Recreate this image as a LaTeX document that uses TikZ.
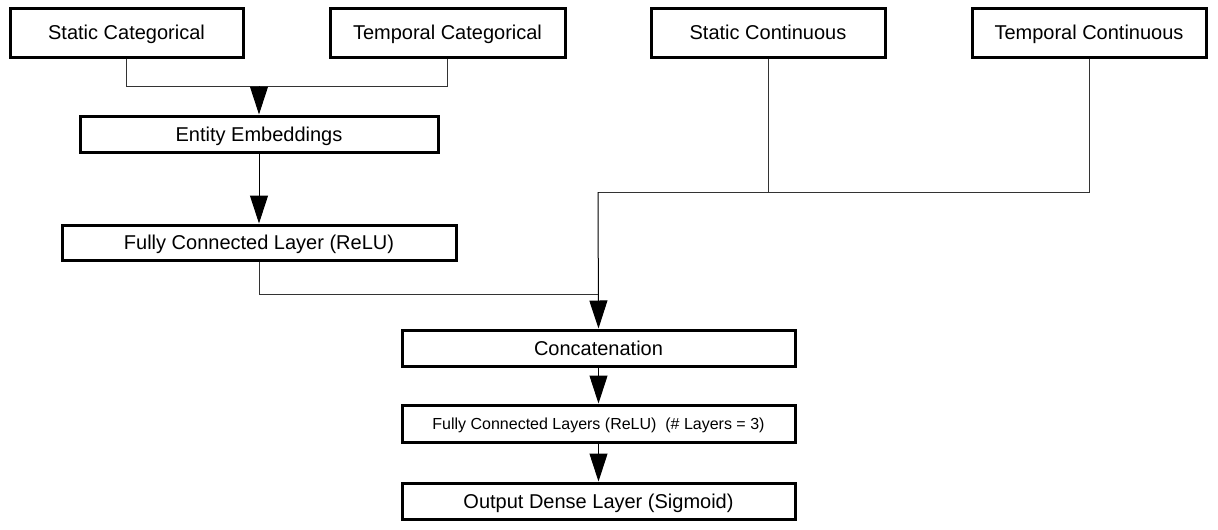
\documentclass[tikz,border=0pt]{standalone}
\usepackage{fontspec}
\setmainfont{Liberation Sans}
\usetikzlibrary{arrows.meta}
\tikzset{
  box/.style={draw=black, line width=3pt, fill=white, rectangle, inner sep=0pt,
    font=\fontsize{20}{24}\selectfont, text height=14.3pt, text depth=0pt},
  smallbox/.style={box, font=\fontsize{16}{19}\selectfont, text height=11.5pt},
  conn/.style={draw=black!80, line width=1pt},
  arr/.style={conn, -{Triangle[width=18pt,length=28pt]}, black},
}
\begin{document}
\begin{tikzpicture}[x=1pt,y=-1pt]
\useasboundingbox (0,0) rectangle (1218,530);
\node[box, minimum width=233pt, minimum height=49pt] (sc) at (126.5,32.5) {Static Categorical};
\node[box, minimum width=235pt, minimum height=49pt] (tc) at (447.5,32.5) {Temporal Categorical};
\node[box, minimum width=234pt, minimum height=49pt] (sco) at (768,32.5) {Static Continuous};
\node[box, minimum width=234pt, minimum height=49pt] (tco) at (1089,32.5) {Temporal Continuous};
\node[box, minimum width=358pt, minimum height=36pt] (ee) at (259,134) {Entity Embeddings};
\node[box, minimum width=394pt, minimum height=35pt] (fc) at (259,242.5) {Fully Connected Layer (ReLU)};
\node[box, minimum width=393pt, minimum height=36pt] (cat) at (598.5,348) {Concatenation};
\node[smallbox, minimum width=393pt, minimum height=37pt] (fcl) at (598.5,423.5) {Fully Connected Layers (ReLU)\ \ (\# Layers = 3)};
\node[box, minimum width=393pt, minimum height=36pt] (out) at (598.5,501) {Output Dense Layer (Sigmoid)};
\coordinate (j1) at (259,86);
\coordinate (j2) at (598,192);
\coordinate (j3) at (598,294);
\draw[conn] (sc.south) -- (sc.south |- j1) -- (tc.south |- j1) -- (tc.south);
\draw[arr] (j1) -- (ee.north);
\draw[arr] (ee.south) -- (fc.north);
\draw[conn] (sco.south) -- (sco.south |- j2);
\draw[conn] (tco.south) -- (tco.south |- j2) -- (j2);
\draw[arr] (j2) -- (cat.north);
\draw[conn] (fc.south) -- (fc.south |- j3) -- (j3);
\draw[arr] (cat.south) -- (fcl.north);
\draw[arr] (fcl.south) -- (out.north);
\end{tikzpicture}
\end{document}
